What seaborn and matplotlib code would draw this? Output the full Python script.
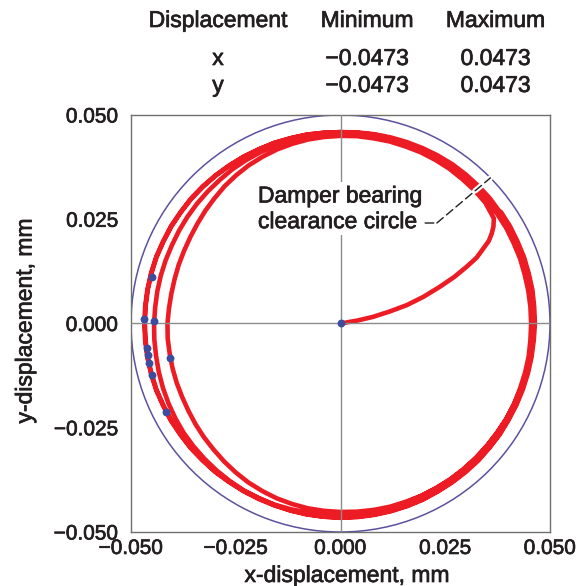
import numpy as np
import pandas as pd
import matplotlib
matplotlib.use("Agg")
import matplotlib.pyplot as plt
import seaborn as sns
from matplotlib.patches import Circle
from matplotlib import patheffects as pe
from matplotlib.ticker import FuncFormatter

# ---------------- data ----------------
table_header = ["Displacement", "Minimum", "Maximum"]
disp_names = ["x", "y"]
disp_min = [-0.0473, -0.0473]
disp_max = [0.0473, 0.0473]

tick_values = [-0.050, -0.025, 0.000, 0.025, 0.050]
clearance_radius = 0.050

# start-up transient (from the origin to the orbit)
transient_x = [0.0, 0.0040, 0.0078, 0.0118, 0.0158, 0.0198, 0.0237, 0.0272,
               0.0301, 0.0325, 0.0341, 0.0354, 0.0361, 0.0365, 0.0366]
transient_y = [0.0, 0.0007, 0.0016, 0.0029, 0.0044, 0.0064, 0.0088, 0.0112,
               0.0136, 0.0158, 0.0180, 0.0198, 0.0216, 0.0232, 0.0252]

# whirl loops: orbit radius read at each angle station (degrees, counter-clockwise)
loop_angles_deg = [40, 45, 50, 55, 60, 65, 70, 75, 80, 85, 90, 95,
                   100, 105, 110, 115, 120, 125, 130, 135, 140, 145, 150, 155,
                   160, 165, 170, 175, 180, 185, 190, 195, 200, 205, 210, 215,
                   220, 225, 230, 235, 240, 245, 250, 255, 260, 265, 270, 275,
                   280, 285, 290, 295, 300, 305, 310, 315, 320, 325, 330, 335,
                   340, 345, 350, 355, 360, 365, 370, 375, 380, 385, 390, 395]
loop1_r = [.0451, .0452, .0452, .0453, .0453, .0453, .0452, .0452, .0451, .0451, .0450, .0449,
           .0448, .0446, .0444, .0441, .0438, .0434, .0430, .0425, .0421, .0417, .0414, .0412,
           .0411, .0410, .0410, .0411, .0413, .0414, .0414, .0415, .0416, .0417, .0419, .0422,
           .0425, .0428, .0432, .0436, .0440, .0443, .0446, .0448, .0450, .0451, .0452, .0453,
           .0454, .0455, .0455, .0456, .0456, .0457, .0457, .0457, .0457, .0457, .0457, .0457,
           .0456, .0456, .0456, .0455, .0455, .0455, .0455, .0455, .0456, .0456, .0457, .0457]
loop2_r = [.0457, .0458, .0458, .0458, .0458, .0458, .0457, .0457, .0457, .0457, .0456, .0456,
           .0455, .0455, .0454, .0453, .0452, .0451, .0449, .0448, .0447, .0446, .0445, .0444,
           .0444, .0444, .0444, .0444, .0445, .0446, .0447, .0449, .0451, .0453, .0455, .0457,
           .0458, .0459, .0460, .0461, .0462, .0462, .0463, .0464, .0464, .0465, .0465, .0465,
           .0465, .0465, .0465, .0465, .0464, .0464, .0463, .0463, .0463, .0463, .0462, .0462,
           .0461, .0461, .0461, .0461, .0461, .0461, .0461, .0461, .0461, .0462, .0462, .0462]
loop3_r = [.0462, .0462, .0462, .0461, .0461, .0460, .0460, .0460, .0460, .0459, .0459, .0459,
           .0460, .0460, .0461, .0461, .0462, .0462, .0463, .0464, .0465, .0465, .0466, .0466,
           .0467, .0467, .0467, .0467, .0467, .0467, .0467, .0467, .0467, .0466, .0466, .0465,
           .0465, .0464, .0464, .0463, .0463, .0462, .0462, .0461, .0460, .0459, .0459, .0458,
           .0458, .0457, .0457, .0456, .0456, .0456, .0456, .0456, .0456, .0456, .0457, .0457,
           .0458, .0459, .0460, .0461, .0462, .0462, .0463, .0463, .0464, .0464, .0465, .0465]
loop4_r = [.0466, .0466, .0466, .0466, .0465, .0464, .0463, .0462, .0461, .0460, .0459, .0459,
           .0460, .0460, .0461, .0461, .0462, .0463, .0464, .0465, .0466, .0466, .0467, .0467,
           .0468, .0468, .0468, .0468, .0468, .0468, .0468, .0468, .0468, .0467, .0467, .0466,
           .0466, .0465, .0465, .0464, .0464, .0464, .0464, .0464, .0465, .0465, .0466, .0466,
           .0466, .0466, .0466, .0466, .0465, .0465, .0465, .0465, .0464, .0464, .0463, .0463,
           .0463, .0463, .0463, .0463, .0464, .0464, .0465, .0465, .0466, .0466, .0467, .0467]

# blue event markers
marker_x = [0.0, -0.0451, -0.0469, -0.0445, -0.0463, -0.0460, -0.0457, -0.0451, -0.0407, -0.0416]
marker_y = [0.0, 0.0111, 0.0011, 0.0007, -0.0058, -0.0076, -0.0095, -0.0124, -0.0082, -0.0212]

# ---------------- build orbit table ----------------
xs = list(transient_x)
ys = list(transient_y)
ang = np.deg2rad(loop_angles_deg)
for r in (loop1_r, loop2_r, loop3_r, loop4_r):
    r = np.asarray(r)
    xs.extend(r * np.cos(ang))
    ys.extend(r * np.sin(ang))
orbit = pd.DataFrame({"x": xs, "y": ys})
markers = pd.DataFrame({"x": marker_x, "y": marker_y})

# ---------------- style ----------------
sns.set_style("white")
plt.rcParams["font.family"] = ["Liberation Sans", "DejaVu Sans"]
TXT = "#231f20"
RED = "#ED1C24"
PURPLE = "#5C519E"
BLUE = "#3E4C9E"
GRAY = "#8c8c8c"
BOLDEN = [pe.withStroke(linewidth=0.5, foreground=TXT)]

W, H = 587, 586
fig = plt.figure(figsize=(W / 100, H / 100), dpi=100)
ax = fig.add_axes([131 / W, 1 - 532 / H, 419 / W, 417 / H])

# clearance circle
ax.add_patch(Circle((0, 0), clearance_radius, fill=False, ec=PURPLE, lw=1.1, zorder=1.5))

# orbit
sns.lineplot(data=orbit, x="x", y="y", sort=False, estimator=None, color=RED,
             lw=3.3, ax=ax, zorder=2, solid_joinstyle="round", solid_capstyle="round")

# crosshair
ax.axhline(0, color=GRAY, lw=1.0, zorder=2.6)
ax.axvline(0, color=GRAY, lw=1.0, zorder=2.6)

# markers
sns.scatterplot(data=markers, x="x", y="y", color=BLUE, s=32, linewidth=0,
                ax=ax, zorder=4)

ax.set_xlim(-0.05, 0.05)
ax.set_ylim(-0.05, 0.05)
ax.set_xticks(tick_values)
ax.set_yticks(tick_values)
fmt = FuncFormatter(lambda v, p: f"{v:.3f}".replace("-", "\u2212"))
ax.xaxis.set_major_formatter(fmt)
ax.yaxis.set_major_formatter(fmt)
ax.tick_params(axis="both", direction="in", length=14.5, width=0.9, color="#555555",
               labelsize=15, labelcolor=TXT)
ax.tick_params(axis="x", pad=5)
ax.tick_params(axis="y", pad=9)
ax.set_xlabel("")
ax.set_ylabel("")
for lab in ax.get_xticklabels() + ax.get_yticklabels():
    lab.set_path_effects(BOLDEN)
for s in ax.spines.values():
    s.set_color("#707070")
    s.set_linewidth(1.0)

# axis titles
fig.text(347 / W, 1 - 582 / H, "x-displacement, mm", ha="center", va="baseline",
         fontsize=16.5, color=TXT, path_effects=BOLDEN)
fig.text(25 / W, 1 - 321 / H, "y-displacement, mm", ha="center", va="center",
         rotation=90, fontsize=16.5, color=TXT, path_effects=BOLDEN)

# annotation
ax.text(-0.0197, 0.0275, "Damper bearing\nclearance circle", ha="left", va="center",
        fontsize=16.5, color=TXT, linespacing=1.15, zorder=3, path_effects=BOLDEN,
        bbox=dict(facecolor="white", edgecolor="none", pad=1.5))
leader_angle = np.deg2rad(44.3)
tip = (clearance_radius * np.cos(leader_angle), clearance_radius * np.sin(leader_angle))
elbow = (0.0230, 0.0241)
ax.annotate("", xy=elbow, xytext=(0.0202, 0.0241),
            arrowprops=dict(arrowstyle="-", color=TXT, lw=1.0, shrinkA=0, shrinkB=0),
            zorder=5)
ax.annotate("", xy=tip, xytext=elbow,
            arrowprops=dict(arrowstyle="-", color=TXT, lw=1.0, linestyle=(0, (6, 3)),
                            shrinkA=0, shrinkB=0,
                            path_effects=[pe.withStroke(linewidth=4, foreground="white")]),
            zorder=5)

# summary table
col_x = [218 / W, 367 / W, 495.5 / W]
row_y = [1 - 27 / H, 1 - 65 / H, 1 - 92 / H]
for cx, h in zip(col_x, table_header):
    fig.text(cx, row_y[0], h, ha="center", va="baseline", fontsize=16.5, color=TXT,
             path_effects=BOLDEN)
for i, name in enumerate(disp_names):
    yy = row_y[i + 1]
    fig.text(col_x[0], yy, name, ha="center", va="baseline", fontsize=16.5, color=TXT,
             path_effects=BOLDEN)
    fig.text(col_x[1], yy, f"{disp_min[i]:.4f}".replace("-", "\u2212"), ha="center",
             va="baseline", fontsize=16.5, color=TXT, path_effects=BOLDEN)
    fig.text(col_x[2], yy, f"{disp_max[i]:.4f}", ha="center", va="baseline",
             fontsize=16.5, color=TXT, path_effects=BOLDEN)

fig.savefig("out.png", dpi=100)
